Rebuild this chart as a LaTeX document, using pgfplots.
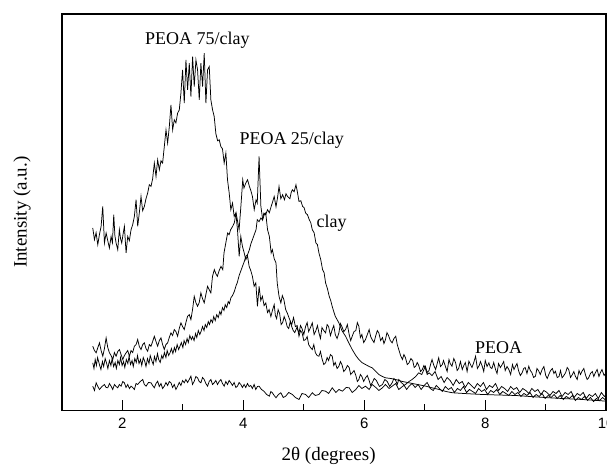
\documentclass[border=0pt]{standalone}
\usepackage{fontspec}
\setmainfont{Liberation Serif}
\newfontfamily\arial{Liberation Sans}
\usepackage{pgfplots}
\pgfplotsset{compat=1.18}
\begin{document}
\begin{tikzpicture}
\begin{axis}[
  width=545pt, height=397pt, scale only axis,
  xmin=1, xmax=10, ymin=0, ymax=397,
  axis line style={line width=1.6pt},
  xtick={2,4,6,8,10}, minor xtick={3,5,7,9},
  ytick=\empty,
  xtick pos=bottom, tick align=inside,
  major tick length=10pt, minor tick length=6pt,
  every tick/.style={black, line width=1.2pt},
  xticklabel style={font=\arial\fontsize{15}{15}\selectfont, yshift=-4pt},
  /pgf/number format/assume math mode=true,
  xlabel={2θ (degrees)},
  ylabel={Intensity (a.u.)},
  label style={font=\fontsize{19}{19}\selectfont},
  xlabel style={at={(axis description cs:0.49,-0.115)}, anchor=center},
  ylabel style={at={(axis description cs:-0.073,0.5)}, anchor=center},
]

% PEOA 75/clay
\addplot[black, line width=0.75pt] coordinates {(1.51,182.7)(1.538,171)(1.565,178)(1.593,166)(1.62,176)(1.648,184.3)(1.675,204.3)(1.703,167.7)(1.731,177.7)(1.758,170)(1.785,162.7)(1.813,174.3)(1.835,168)(1.857,196)(1.876,175)(1.896,167.7)(1.923,161)(1.950,181)(1.970,172)(1.989,167.7)(2.01,176)(2.033,184.3)(2.061,157.7)(2.088,174.3)(2.115,170)(2.143,181)(2.17,186)(2.198,194.3)(2.226,211)(2.253,184.3)(2.28,198)(2.308,214.3)(2.335,200)(2.363,204.3)(2.39,212)(2.418,217.7)(2.445,226)(2.473,224.3)(2.50,232)(2.528,247.7)(2.556,234.3)(2.583,251)(2.611,241)(2.638,250)(2.665,247.7)(2.693,264.3)(2.721,281)(2.748,267.7)(2.776,284.3)(2.803,306)(2.831,281)(2.858,291)(2.885,288)(2.913,297.7)(2.941,301)(2.968,318)(2.995,341)(3.023,307.7)(3.051,351)(3.078,321)(3.106,347.7)(3.133,314.3)(3.161,354.3)(3.188,324.3)(3.216,351)(3.243,341)(3.271,311)(3.298,347.7)(3.326,324.3)(3.353,357.7)(3.381,307.7)(3.408,341)(3.436,344.3)(3.463,311)(3.491,301)(3.518,294.3)(3.546,277)(3.575,270)(3.601,271)(3.628,264.3)(3.655,262)(3.683,247.7)(3.711,257.7)(3.738,231)(3.766,217.7)(3.793,201)(3.821,207.7)(3.848,194.3)(3.876,197.7)(3.903,181)(3.931,154.3)(3.958,174.3)(3.985,164.3)(4.013,158)(4.041,151)(4.068,155)(4.096,144.3)(4.123,140)(4.150,134.3)(4.178,124.3)(4.206,127.7)(4.233,104.3)(4.261,124.3)(4.288,110)(4.315,114.3)(4.343,105)(4.371,107.7)(4.40,98)(4.426,101)(4.455,94)(4.48,100)(4.51,106)(4.53,95)(4.55,92)(4.575,101)(4.60,97)(4.625,86)(4.65,88)(4.675,94)(4.70,90)(4.725,84)(4.75,82)(4.775,89)(4.80,84)(4.825,80)(4.85,78)(4.885,83)(4.92,77.7)(4.945,85)(4.97,82)(5.00,76)(5.03,84.3)(5.055,88)(5.08,79)(5.11,83)(5.14,87.7)(5.17,76)(5.20,80)(5.225,85)(5.25,77.7)(5.275,72)(5.30,83)(5.33,80)(5.36,77.7)(5.385,86)(5.41,84)(5.44,75)(5.47,81)(5.495,85)(5.52,76)(5.55,72)(5.58,77.7)(5.605,87)(5.63,84)(5.66,79)(5.69,81)(5.72,86)(5.75,76)(5.775,70)(5.80,74.3)(5.83,79)(5.86,80)(5.885,88)(5.91,84.3)(5.935,73)(5.96,76)(5.99,68)(6.02,71)(6.05,76)(6.08,81)(6.105,74)(6.13,71)(6.16,68)(6.19,75)(6.215,80)(6.24,77.7)(6.27,70)(6.30,73)(6.325,67)(6.35,71)(6.375,78)(6.40,75)(6.43,70)(6.46,67.7)(6.49,72)(6.52,74.3)(6.545,66)(6.57,61)(6.60,55)(6.63,51)(6.655,56)(6.68,53)(6.71,46)(6.74,47.7)(6.77,52)(6.80,50)(6.825,43)(6.85,44.3)(6.875,48)(6.90,45)(6.93,39)(6.96,41)(6.985,45)(7.01,42)(7.04,36)(7.07,37.7)(7.12,35)(7.17,39)(7.22,31)(7.27,34)(7.32,28)(7.37,33)(7.42,30)(7.47,25)(7.52,31)(7.57,27)(7.62,29)(7.67,23)(7.72,28)(7.77,25)(7.82,22)(7.87,27)(7.92,24)(7.97,28)(8.02,21)(8.07,25)(8.12,23)(8.17,27)(8.22,20)(8.27,24)(8.32,22)(8.37,19)(8.42,24)(8.47,21)(8.52,23)(8.57,18)(8.62,22)(8.67,20)(8.72,17)(8.77,22)(8.82,19)(8.87,21)(8.92,16)(8.97,20)(9.02,18)(9.07,15)(9.12,19)(9.17,17)(9.22,20)(9.27,14)(9.32,18)(9.37,16)(9.42,19)(9.47,13)(9.52,17)(9.57,15)(9.62,18)(9.67,12)(9.72,16)(9.77,14)(9.82,17)(9.87,12)(9.92,18)(9.97,14)(10,16)};

% PEOA 25/clay
\addplot[black, line width=0.75pt] coordinates {(1.51,64.3)(1.538,60)(1.566,57.7)(1.594,63)(1.621,67.7)(1.648,60)(1.676,54.3)(1.703,62)(1.731,72.7)(1.758,63)(1.786,57.7)(1.813,55)(1.841,51)(1.868,58)(1.896,54.3)(1.923,59)(1.951,61)(1.978,56)(2.006,51)(2.033,55)(2.061,57.7)(2.088,60)(2.116,54.3)(2.143,60)(2.17,58)(2.198,64.3)(2.226,66)(2.253,71)(2.28,64)(2.308,61)(2.336,66)(2.363,67.7)(2.39,62)(2.418,59.3)(2.445,66)(2.473,64.3)(2.50,69)(2.528,74.3)(2.556,69)(2.583,64.3)(2.611,70)(2.638,72.7)(2.665,66)(2.693,61)(2.72,66)(2.748,67.7)(2.775,73)(2.803,77.7)(2.83,75)(2.858,81)(2.885,79)(2.913,74.3)(2.94,82)(2.968,87.7)(2.995,84)(3.023,81)(3.05,88)(3.078,94.3)(3.105,96)(3.133,91)(3.16,101)(3.188,114.3)(3.215,108)(3.243,104.3)(3.27,108)(3.298,117.7)(3.325,112)(3.353,107.7)(3.38,116)(3.408,124.3)(3.435,121)(3.463,117.7)(3.49,134.3)(3.52,141)(3.545,137)(3.57,134.3)(3.60,140)(3.63,144.3)(3.66,141)(3.68,157.7)(3.71,167.7)(3.74,177.7)(3.765,176)(3.79,181)(3.82,184)(3.85,187.7)(3.88,197.7)(3.90,191)(3.93,181)(3.96,205)(3.99,231)(4.01,222.7)(4.04,227.7)(4.07,231)(4.10,224.3)(4.125,220)(4.15,214.3)(4.18,201)(4.21,211)(4.23,207.7)(4.26,254.3)(4.29,204.3)(4.32,191)(4.345,196)(4.37,197.7)(4.40,181)(4.43,174.3)(4.46,157.7)(4.48,161)(4.51,152)(4.54,147.7)(4.56,127.7)(4.59,114.3)(4.62,107.7)(4.645,115)(4.67,111)(4.70,101)(4.73,97)(4.76,92)(4.80,86)(4.83,93)(4.86,84)(4.89,85)(4.92,74.3)(4.945,80)(4.97,78)(5.00,70)(5.03,71)(5.055,74)(5.08,66)(5.11,63)(5.14,61)(5.165,66)(5.19,58)(5.22,55)(5.25,54.3)(5.275,59)(5.30,52)(5.33,46)(5.36,47.7)(5.385,53)(5.41,50)(5.44,56)(5.47,54.3)(5.495,45)(5.52,48)(5.55,42)(5.58,44.3)(5.605,49)(5.63,46)(5.66,39)(5.69,41)(5.72,45)(5.75,43)(5.775,36)(5.80,37.7)(5.83,40)(5.86,35)(5.885,29)(5.91,31)(5.935,36)(5.96,34)(5.99,29)(6.02,32.7)(6.05,35)(6.08,30)(6.105,25)(6.13,27.7)(6.165,32)(6.2,30)(6.25,24)(6.30,26)(6.34,31)(6.38,29)(6.42,24)(6.46,27.7)(6.49,32)(6.52,30)(6.545,26)(6.57,31)(6.61,28)(6.65,26)(6.70,21)(6.74,24.3)(6.79,27)(6.84,23)(6.89,26)(6.94,21)(6.99,25)(7.04,28)(7.09,22)(7.14,20)(7.19,25)(7.24,22)(7.29,19)(7.34,24)(7.39,21)(7.44,23)(7.49,18)(7.54,22)(7.59,20)(7.64,24)(7.69,18)(7.74,21)(7.79,19)(7.84,17)(7.89,22)(7.94,19)(7.99,21)(8.04,16)(8.09,20)(8.14,18)(8.19,21)(8.24,16)(8.29,19)(8.34,17)(8.39,15)(8.44,19)(8.49,16)(8.54,18)(8.59,14)(8.64,17)(8.69,15)(8.74,18)(8.79,13)(8.84,16)(8.89,14)(8.94,17)(8.99,12)(9.04,15)(9.09,13)(9.14,16)(9.19,12)(9.24,15)(9.29,11)(9.34,14)(9.39,12)(9.44,15)(9.49,10)(9.54,13)(9.59,11)(9.64,14)(9.69,10)(9.74,13)(9.79,9)(9.84,12)(9.89,10)(9.94,13)(10,10)};

% clay
\addplot[black, line width=0.75pt] coordinates {(1.51,47.7)(1.53,42)(1.55,51)(1.57,45)(1.59,53)(1.62,46)(1.645,41)(1.67,49)(1.69,44)(1.715,52)(1.74,47)(1.76,42)(1.785,50)(1.81,45)(1.83,52)(1.855,44)(1.88,48)(1.90,42)(1.925,50)(1.95,46)(1.97,53)(1.995,45)(2.02,49)(2.04,43)(2.065,51)(2.09,47)(2.11,54)(2.135,46)(2.16,50)(2.18,44)(2.205,52)(2.23,48)(2.25,55)(2.275,47)(2.30,51)(2.32,45)(2.345,53)(2.37,49)(2.39,44)(2.415,52)(2.44,47)(2.46,55)(2.485,50)(2.51,46)(2.53,54)(2.555,49)(2.58,57)(2.60,51)(2.625,48)(2.65,55)(2.67,52)(2.695,58)(2.72,53)(2.74,60)(2.765,55)(2.79,58)(2.81,62)(2.835,57)(2.86,63)(2.88,59)(2.905,66)(2.93,61)(2.95,64)(2.975,68)(3.00,63)(3.02,70)(3.045,66)(3.07,72)(3.09,68)(3.115,75)(3.14,71)(3.16,74)(3.185,70)(3.21,77)(3.23,73)(3.255,80)(3.28,76)(3.30,79)(3.325,84)(3.35,80)(3.37,86)(3.395,83)(3.42,89)(3.44,86)(3.465,91)(3.49,88)(3.51,94)(3.535,90)(3.56,96)(3.585,93)(3.61,99)(3.63,96)(3.655,103)(3.68,100)(3.70,106)(3.725,103)(3.75,109)(3.77,107)(3.795,113)(3.82,115)(3.85,119)(3.88,125)(3.90,128)(3.93,135)(3.96,140)(3.99,145)(4.015,149)(4.04,154.3)(4.07,156)(4.10,161)(4.125,167)(4.15,171)(4.18,176)(4.21,181)(4.23,191)(4.26,189)(4.29,192.7)(4.315,191)(4.34,197.7)(4.37,196)(4.40,201)(4.43,198)(4.46,204.3)(4.485,209)(4.51,214.3)(4.54,204)(4.565,213)(4.59,224.3)(4.62,212)(4.65,216)(4.68,211)(4.705,217)(4.73,214.3)(4.77,212)(4.79,218)(4.81,221)(4.84,219)(4.87,226)(4.89,220)(4.92,209.3)(4.95,210)(4.98,204.3)(5.005,203)(5.03,197.7)(5.06,196)(5.09,191)(5.115,188)(5.14,181)(5.17,178)(5.20,167.7)(5.225,166)(5.25,157.7)(5.28,151)(5.31,141)(5.335,138)(5.36,127.7)(5.39,122)(5.42,114.3)(5.445,110)(5.47,104)(5.495,99)(5.52,94.3)(5.55,91)(5.58,87.7)(5.63,80)(5.69,74.3)(5.75,67)(5.80,61)(5.86,55)(5.91,51)(5.96,48)(6.02,46)(6.08,44)(6.13,42.7)(6.19,39)(6.24,36)(6.30,34)(6.35,32.7)(6.44,32)(6.52,31)(6.63,29)(6.74,27.7)(6.88,26)(7.02,24.3)(7.13,22.5)(7.24,21)(7.35,19)(7.46,17.7)(7.7,16.8)(7.95,16)(8.2,15.5)(8.50,15)(8.78,13.8)(9.05,12.7)(9.33,11.8)(9.60,11)(9.8,10.2)(10,9.3)};

% PEOA
\addplot[black, line width=0.75pt] coordinates {(1.51,24.3)(1.538,20)(1.566,27.7)(1.594,24)(1.621,21)(1.662,24)(1.703,26)(1.73,23)(1.758,22.7)(1.786,27)(1.813,24.3)(1.84,21)(1.868,26)(1.896,24)(1.923,22.7)(1.95,26)(1.978,24.3)(2.006,29)(2.033,27.7)(2.06,23)(2.088,26)(2.116,22)(2.143,24.3)(2.17,23)(2.198,21)(2.226,27)(2.253,26)(2.295,29)(2.336,31)(2.363,26)(2.391,24.3)(2.432,28)(2.473,27.7)(2.50,25)(2.528,22.7)(2.556,27)(2.583,29.3)(2.61,24)(2.638,27)(2.665,22)(2.693,24.3)(2.72,28)(2.748,25)(2.775,29)(2.803,27.7)(2.83,23)(2.858,26)(2.885,21)(2.913,24.3)(2.94,28)(2.968,25)(2.995,30)(3.023,27.7)(3.05,31)(3.078,28)(3.105,31)(3.133,34.3)(3.16,26)(3.188,29.3)(3.215,34)(3.243,32.7)(3.27,29)(3.298,27.7)(3.325,33)(3.353,31)(3.38,27)(3.408,24.3)(3.435,29)(3.463,31)(3.49,26)(3.518,27.7)(3.545,30)(3.573,26)(3.60,29)(3.628,31)(3.655,27)(3.683,24.3)(3.71,29)(3.738,26)(3.765,30)(3.793,27.7)(3.82,25)(3.848,28)(3.876,23)(3.903,24.3)(3.93,28)(3.958,26)(3.985,23)(4.013,26)(4.04,23)(4.068,27)(4.096,24)(4.123,25)(4.15,22)(4.178,26)(4.206,21)(4.233,24)(4.26,24.3)(4.30,21)(4.34,19.3)(4.385,16)(4.43,14.3)(4.455,19)(4.48,17.7)(4.51,15)(4.54,12.7)(4.58,16)(4.62,17.7)(4.66,13)(4.70,14.3)(4.75,18)(4.81,16)(4.86,13)(4.92,11)(4.97,17)(5.03,16)(5.08,13)(5.14,17.7)(5.19,15)(5.25,16)(5.30,20)(5.36,19.3)(5.41,17)(5.47,22.7)(5.53,18)(5.58,21)(5.64,19.3)(5.70,23)(5.75,22.7)(5.80,18)(5.86,21)(5.91,25)(5.96,22)(6.02,24.3)(6.08,21)(6.13,26)(6.19,23)(6.24,20)(6.30,22.7)(6.35,26)(6.41,22)(6.46,24.3)(6.52,27)(6.57,21)(6.63,24)(6.68,26)(6.74,29)(6.79,31)(6.85,34)(6.90,37.7)(6.95,36)(7.01,44.3)(7.04,38)(7.07,40)(7.10,47)(7.12,51)(7.15,45)(7.18,41)(7.21,48)(7.23,52.7)(7.26,44)(7.29,46)(7.31,50)(7.34,44.3)(7.37,39)(7.40,51)(7.42,47)(7.45,44.3)(7.48,52)(7.51,47.7)(7.535,40)(7.56,42)(7.59,49)(7.62,41)(7.645,45)(7.67,48)(7.70,39)(7.73,49.3)(7.755,46)(7.78,43)(7.81,48)(7.84,54.3)(7.87,42)(7.90,45)(7.92,49)(7.95,44.3)(7.975,39)(8.00,50)(8.03,44)(8.06,47.7)(8.085,43)(8.11,42)(8.14,48)(8.17,41)(8.195,37)(8.22,47)(8.25,43)(8.28,46)(8.305,49)(8.33,40)(8.36,44)(8.39,41)(8.42,36)(8.45,46)(8.475,41)(8.50,44.3)(8.525,47)(8.55,40)(8.58,35)(8.61,37.7)(8.635,42)(8.66,43)(8.69,37)(8.72,44.3)(8.745,40)(8.77,38)(8.80,33)(8.83,34.3)(8.855,42)(8.88,40)(8.91,36)(8.94,41)(8.97,44)(9.00,35)(9.025,32)(9.05,36)(9.08,40)(9.11,42)(9.135,37)(9.16,39.3)(9.19,33)(9.22,34)(9.245,40)(9.27,32.7)(9.30,35)(9.33,38)(9.355,43)(9.38,41)(9.41,33)(9.44,36)(9.465,39)(9.49,34.3)(9.52,31)(9.55,40)(9.575,36)(9.60,39.3)(9.63,42)(9.66,35)(9.685,31)(9.71,32.7)(9.74,37)(9.77,39)(9.795,34)(9.82,37.7)(9.85,41)(9.88,34)(9.905,38)(9.93,41)(9.965,35)(10,38)};

\node[font=\fontsize{18}{18}\selectfont] at (axis cs:3.24,371) {PEOA 75/clay};
\node[font=\fontsize{18}{18}\selectfont] at (axis cs:4.80,271) {PEOA 25/clay};
\node[font=\fontsize{18}{18}\selectfont] at (axis cs:5.46,188) {clay};
\node[font=\fontsize{18}{18}\selectfont] at (axis cs:8.22,63) {PEOA};
\end{axis}
\pgfresetboundingbox
\path[use as bounding box] ([xshift=-62pt,yshift=-59pt]current axis.south west) rectangle ([xshift=0.8pt,yshift=14pt]current axis.north east);
\end{tikzpicture}
\end{document}
